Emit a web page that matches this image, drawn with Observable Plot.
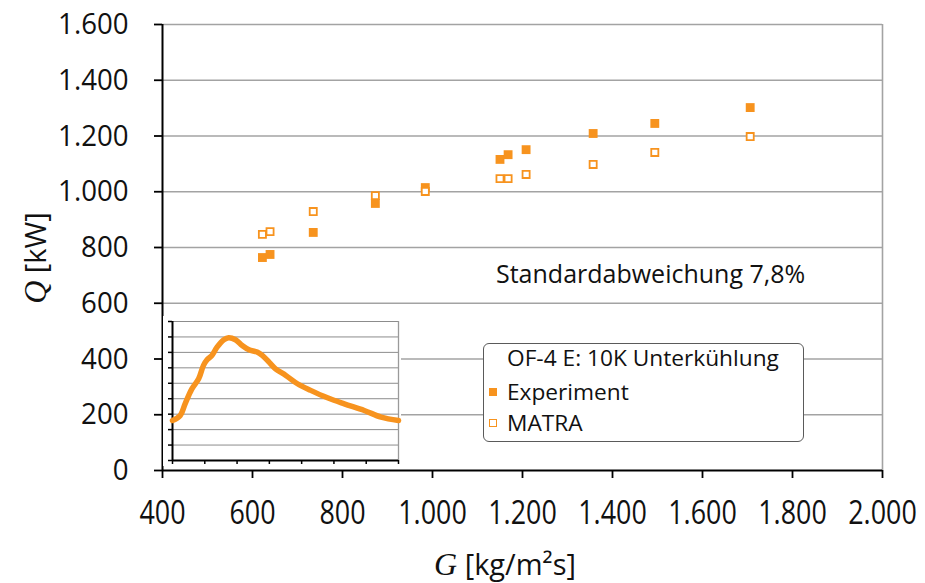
<!DOCTYPE html>
<html>
<head>
<meta charset="utf-8">
<script src="https://cdn.jsdelivr.net/npm/d3@7"></script>
<script src="https://cdn.jsdelivr.net/npm/@observablehq/plot@0.6"></script>
<style>
  html, body { margin: 0; padding: 0; background: #fff; }
  #wrap { position: relative; width: 925px; height: 583px; overflow: hidden; font-family: "Open Sans", sans-serif; color: #111; }
  #wrap svg { display: block; }
  .abs { position: absolute; white-space: nowrap; }
  .serif { font-family: "Liberation Serif", "DejaVu Serif", serif; font-style: italic; }
  #legend { left: 483px; top: 343px; width: 319px; height: 97px; border: 1.6px solid #5a5a5a; border-radius: 6px; background: #fff; font-size: 22.7px; }
  #legend .row { position: absolute; left: 23px; line-height: 32px; height: 32px; }
  #legend .sw { position: absolute; width: 8px; height: 8px; box-sizing: border-box; }
</style>
</head>
<body>
<div id="wrap"></div>
<script>
// ---------- data ----------
const G_exp   = [622, 639, 735, 873, 984, 1150, 1168, 1208, 1357, 1494, 1706];
const Q_exp   = [764, 775, 854, 958, 1015, 1116, 1133, 1151, 1209, 1245, 1302];
const G_matra = [622, 639, 735, 873, 984, 1150, 1168, 1208, 1357, 1494, 1706];
const Q_matra = [847, 857, 929, 986, 1001, 1047, 1047, 1062, 1098, 1141, 1198];

const xTicks = [400, 600, 800, 1000, 1200, 1400, 1600, 1800, 2000];
const yTicks = [0, 200, 400, 600, 800, 1000, 1200, 1400, 1600];

// inset curve (arbitrary units: 7 x-intervals, 9 y-intervals)
const insetX = [0, 0.24, 0.39, 0.60, 0.81, 0.96, 1.07, 1.22, 1.38, 1.59, 1.74, 1.95, 2.16, 2.37, 2.62, 2.78, 2.99, 3.19, 3.51, 3.87, 4.28, 4.80, 5.32, 5.94, 6.46, 7.00];
const insetY = [2.59, 2.92, 3.67, 4.64, 5.29, 6.16, 6.52, 6.80, 7.34, 7.82, 7.95, 7.82, 7.45, 7.17, 7.02, 6.80, 6.37, 5.94, 5.51, 4.97, 4.54, 4.06, 3.67, 3.24, 2.81, 2.59];
const insetXTicks = [0, 1, 2, 3, 4, 5, 6, 7];
const insetYTicks = [0, 1, 2, 3, 4, 5, 6, 7, 8, 9];

const legendTitle = "OF-4 E: 10K Unterkühlung";
const seriesNames = ["Experiment", "MATRA"];
const annotation = "Standardabweichung 7,8%";

// ---------- build ----------
const ORANGE = "#f7931e";
const GRID = "#a3a3a3";
const de = d3.formatLocale({decimal: ",", thousands: ".", grouping: [3], currency: ["", " €"]});
const fmt = de.format(",");

const exp = G_exp.map((g, i) => ({G: g, Q: Q_exp[i]}));
const matra = G_matra.map((g, i) => ({G: g, Q: Q_matra[i]}));
const inset = insetX.map((x, i) => ({x, y: insetY[i]}));

const main = Plot.plot({
  width: 925, height: 583,
  marginLeft: 162, marginRight: 43, marginTop: 24, marginBottom: 113,
  x: {domain: [400, 2000]},
  y: {domain: [0, 1600]},
  style: {fontFamily: "Open Sans, sans-serif", color: "#111", background: "#fff"},
  marks: [
    Plot.gridY(yTicks.filter(d => d > 0), {stroke: GRID, strokeOpacity: 1, strokeWidth: 1.6}),
    Plot.ruleX([2000], {stroke: GRID, strokeWidth: 1.6}),
    Plot.axisY({ticks: yTicks, tickFormat: fmt, tickSize: 8, tickPadding: 26, fontSize: 30, label: null, stroke: "#000", strokeWidth: 1.8}),
    Plot.axisX({ticks: xTicks, tickFormat: fmt, tickSize: 8, tickPadding: 23, fontSize: 32, label: null, stroke: "#000", strokeWidth: 1.8}),
    Plot.ruleX([400], {stroke: "#000", strokeWidth: 2}),
    Plot.ruleY([0], {stroke: "#000", strokeWidth: 2}),
    Plot.dot(exp, {x: "G", y: "Q", symbol: "square", r: 5, fill: ORANGE, stroke: "none"}),
    Plot.dot(matra, {x: "G", y: "Q", symbol: "square", r: 4, fill: "#fff", stroke: ORANGE, strokeWidth: 1.8})
  ]
});
main.id = "main";

const insetPlot = Plot.plot({
  width: 238, height: 150,
  marginLeft: 9, marginRight: 3, marginTop: 5, marginBottom: 6,
  x: {domain: [0, 7]},
  y: {domain: [0, 9]},
  style: {background: "#fff", overflow: "visible"},
  marks: [
    Plot.gridY(insetYTicks.filter(d => d > 0), {stroke: "#8c8c8c", strokeOpacity: 1, strokeWidth: 1}),
    Plot.ruleX([7], {stroke: "#9a9a9a", strokeWidth: 1.3}),
    Plot.axisY({ticks: insetYTicks, tickFormat: () => "", tickSize: 4, label: null, stroke: "#000", strokeWidth: 1.5}),
    Plot.axisX({ticks: insetXTicks, tickFormat: () => "", tickSize: 4, label: null, stroke: "#000", strokeWidth: 1.5}),
    Plot.ruleX([0], {stroke: "#000", strokeWidth: 2}),
    Plot.ruleY([0], {stroke: "#000", strokeWidth: 2}),
    Plot.line(inset, {x: "x", y: "y", stroke: ORANGE, strokeWidth: 5.5, curve: "catmull-rom", strokeLinecap: "round"})
  ]
});

const wrap = document.getElementById("wrap");
wrap.appendChild(main);

const insetDiv = document.createElement("div");
insetDiv.className = "abs";
insetDiv.style.left = "163px";
insetDiv.style.top = "316px";
insetDiv.appendChild(insetPlot);
wrap.appendChild(insetDiv);

// condensed tick labels like the original
main.querySelectorAll('[aria-label="x-axis tick label"] text').forEach(t => {
  const L = t.getComputedTextLength();
  t.setAttribute("textLength", (L * 0.84).toFixed(1));
  t.setAttribute("lengthAdjust", "spacingAndGlyphs");
});
main.querySelectorAll('[aria-label="y-axis tick label"] text').forEach(t => {
  const L = t.getComputedTextLength();
  t.setAttribute("textLength", (L * 0.92).toFixed(1));
  t.setAttribute("lengthAdjust", "spacingAndGlyphs");
});

// annotation
const ann = document.createElement("div");
ann.className = "abs";
ann.style.cssText = "left:496px; top:256px; font-size:25px; line-height:34px;";
ann.textContent = annotation;
wrap.appendChild(ann);

// axis titles
const yt = document.createElement("div");
yt.className = "abs";
yt.style.cssText = "left:35px; top:258px; font-size:29px; line-height:34px; transform: translate(-50%,-50%) rotate(-90deg);";
yt.innerHTML = '<span class="serif" style="font-size:32px">Q</span> [kW]';
wrap.appendChild(yt);

const xt = document.createElement("div");
xt.className = "abs";
xt.style.cssText = "left:505px; top:564px; font-size:29px; line-height:34px; transform: translate(-50%,-50%);";
xt.innerHTML = '<span class="serif" style="font-size:32px">G</span> [kg/m²s]';
wrap.appendChild(xt);

// legend
const lg = document.createElement("div");
lg.id = "legend";
lg.className = "abs";
lg.innerHTML =
  `<div class="row" style="top:-2px">${legendTitle}</div>` +
  `<div class="row" style="top:32px"><span class="sw" style="left:-18px; top:12px; background:${ORANGE}"></span>${seriesNames[0]}</div>` +
  `<div class="row" style="top:63px"><span class="sw" style="left:-18px; top:12px; border:1.6px solid ${ORANGE}; background:#fff"></span>${seriesNames[1]}</div>`;
wrap.appendChild(lg);
</script>
</body>
</html>
